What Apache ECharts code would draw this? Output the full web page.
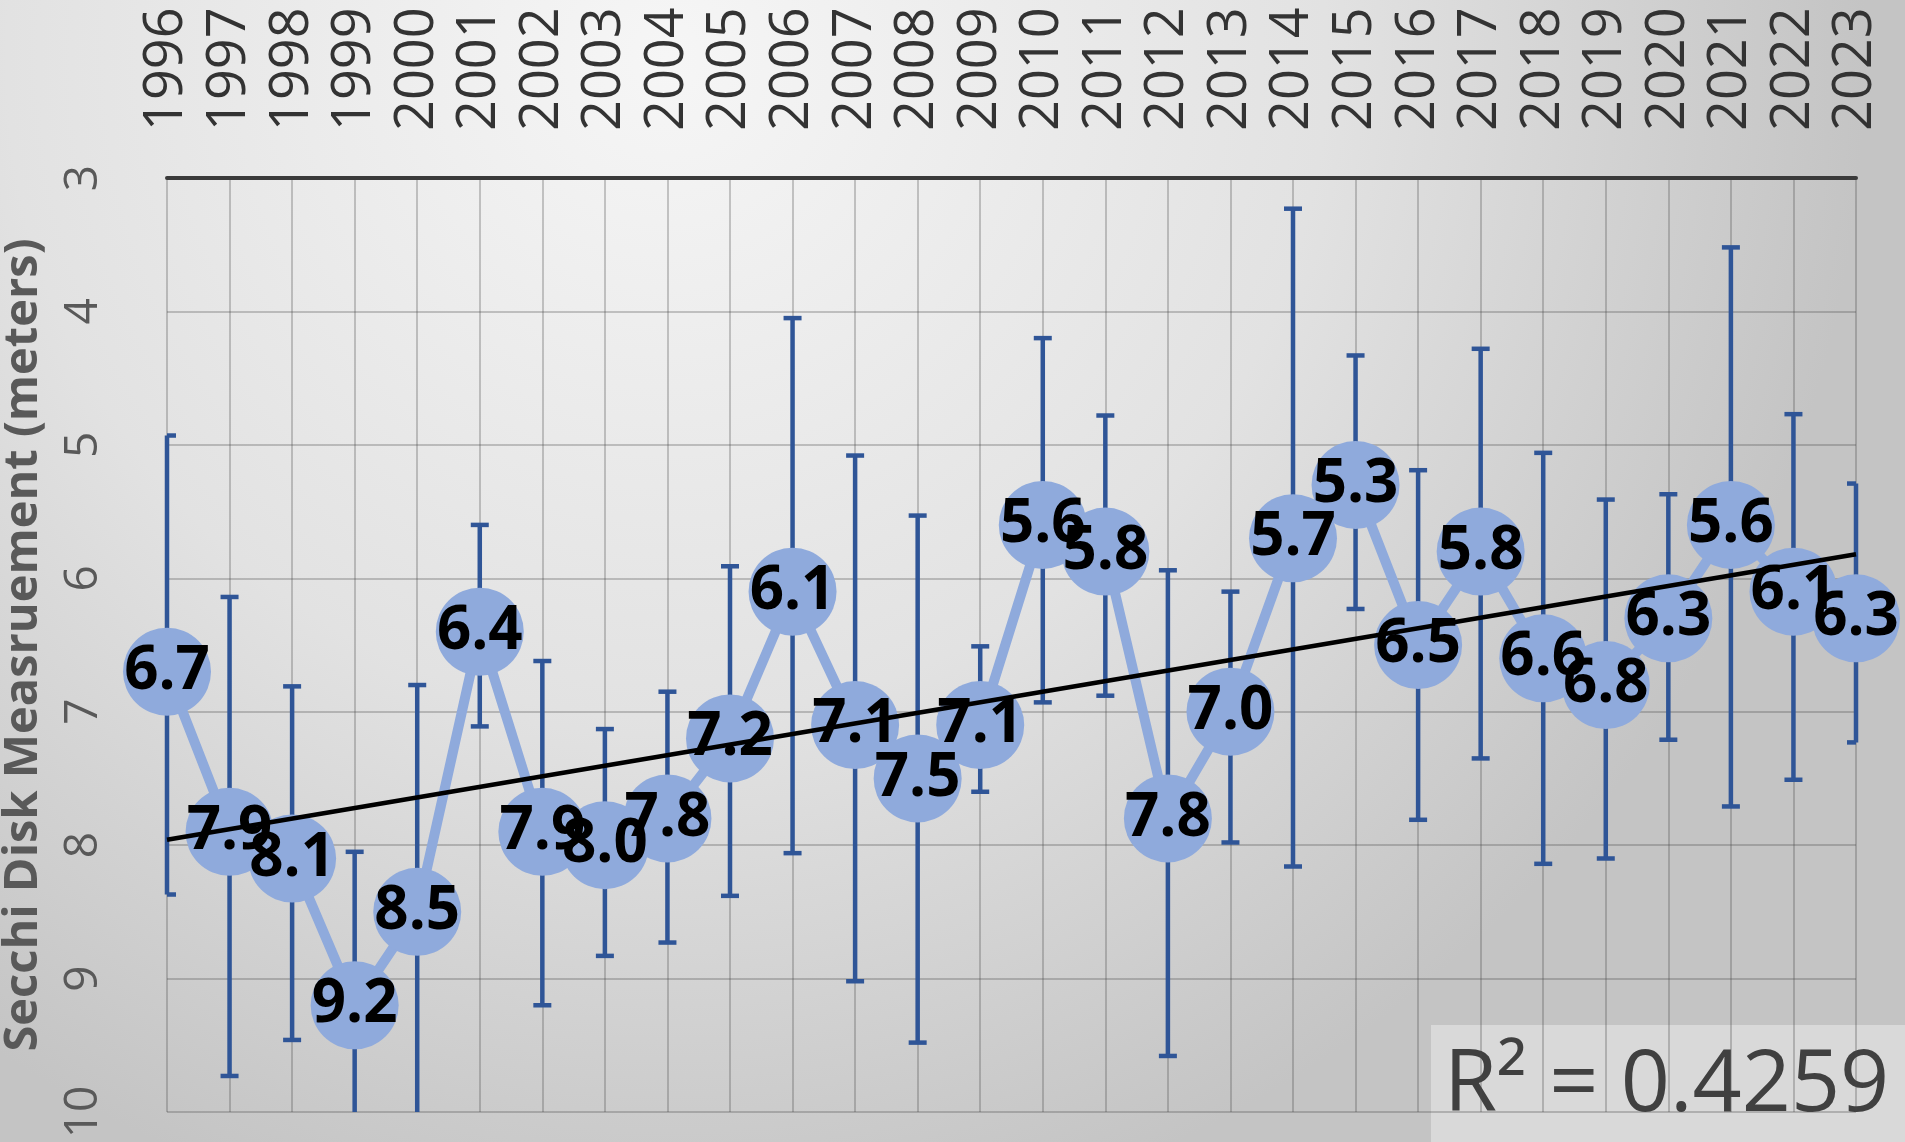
<!DOCTYPE html>
<html>
<head>
<meta charset="utf-8">
<script src="https://cdn.jsdelivr.net/npm/echarts@6/dist/echarts.min.js"></script>
<style>
html,body{margin:0;padding:0;background:#e6e6e6;}
#chart{width:1905px;height:1142px;}
</style>
</head>
<body>
<div id="chart"></div>
<script>
// ---- data ----
const years = ['1996','1997','1998','1999','2000','2001','2002','2003','2004','2005','2006','2007','2008','2009',
               '2010','2011','2012','2013','2014','2015','2016','2017','2018','2019','2020','2021','2022','2023'];
const secchi = [6.7,7.9,8.1,9.2,8.5,6.4,7.9,8.0,7.8,7.2,6.1,7.1,7.5,7.1,5.6,5.8,7.8,7.0,5.7,5.3,6.5,5.8,6.6,6.8,6.3,5.6,6.1,6.3];
// error bar ends (shallow end / deep end), meters
const errShallow = [4.93,6.14,6.81,8.05,6.80,5.60,6.62,7.13,6.85,5.91,4.05,5.08,5.53,6.51,4.20,4.78,5.94,6.10,3.23,4.33,5.19,4.28,5.06,5.41,5.37,3.52,4.77,5.29];
const errDeep    = [8.37,9.73,9.46,10.35,10.20,7.11,9.20,8.83,8.73,8.38,8.06,9.02,9.48,7.60,6.93,6.88,9.58,7.98,8.16,6.23,7.81,7.35,8.14,8.10,7.21,7.71,7.51,7.23];
// linear trend line end points (1996, 2023)
const trendEnds = [7.96, 5.82];
const rSquaredText = 'R² = 0.4259';
const yAxisTitle = 'Secchi Disk Measruement (meters)';

const chart = echarts.init(document.getElementById('chart'), null, {renderer: 'canvas'});

const errData = years.map((y, i) => [i, errShallow[i], errDeep[i]]);

const option = {
  animation: false,
  backgroundColor: new echarts.graphic.RadialGradient(0.35, 0.05, 1.05, [
    {offset: 0, color: '#f6f6f6'},
    {offset: 0.55, color: '#e2e2e2'},
    {offset: 1, color: '#c4c4c4'}
  ]),
  grid: {left: 167, right: 49, top: 178, bottom: 30, containLabel: false, outerBoundsMode: 'none'},
  xAxis: {
    type: 'category',
    data: years,
    position: 'top',
    boundaryGap: false,
    axisLine: {show: true, lineStyle: {color: '#3a3a3a', width: 4}},
    axisTick: {show: false},
    axisLabel: {
      rotate: -90, margin: 47, interval: 0,
      color: '#333333', fontSize: 54, fontFamily: 'Open Sans'
    },
    splitLine: {show: true, lineStyle: {color: 'rgba(70,70,70,0.38)', width: 1.5}}
  },
  yAxis: {
    type: 'value',
    inverse: true,
    min: 3, max: 10, interval: 1,
    axisLine: {show: false},
    axisTick: {show: false},
    axisLabel: {rotate: 90, margin: 60, color: '#595959', fontSize: 46, fontFamily: 'Open Sans'},
    splitLine: {show: true, lineStyle: {color: 'rgba(70,70,70,0.38)', width: 1.5}},
    name: yAxisTitle,
    nameLocation: 'middle',
    nameRotate: 90,
    nameGap: 120,
    nameTextStyle: {color: '#595959', fontSize: 47, fontWeight: 'bold', fontFamily: 'Open Sans'}
  },
  series: [
    {
      type: 'custom',
      z: 1,
      data: errData,
      renderItem: function (params, api) {
        const i = api.value(0);
        const a = api.coord([i, api.value(1)]);
        const b = api.coord([i, api.value(2)]);
        const cs = params.coordSys;
        const top = cs.y, bottom = cs.y + cs.height, left = cs.x, right = cs.x + cs.width;
        const x = a[0];
        const y1 = Math.max(top, Math.min(bottom, a[1]));
        const y2 = Math.max(top, Math.min(bottom, b[1]));
        const half = 9;
        const cl = Math.max(left, x - half), cr = Math.min(right, x + half);
        const style = {stroke: '#2F5597', lineWidth: 4.5, fill: null};
        const children = [
          {type: 'line', shape: {x1: x, y1: y1, x2: x, y2: y2}, style: style}
        ];
        if (a[1] >= top && a[1] <= bottom) children.push({type: 'line', shape: {x1: cl, y1: a[1], x2: cr, y2: a[1]}, style: style});
        if (b[1] >= top && b[1] <= bottom) children.push({type: 'line', shape: {x1: cl, y1: b[1], x2: cr, y2: b[1]}, style: style});
        return {type: 'group', children: children};
      }
    },
    {
      type: 'line',
      z: 2,
      data: secchi,
      symbol: 'circle',
      symbolSize: 88,
      itemStyle: {color: '#8FAADC'},
      lineStyle: {color: '#8FAADC', width: 10},
      label: {
        show: true, position: 'inside',
        color: '#000', fontSize: 60, fontWeight: 'bold', fontFamily: 'Open Sans',
        formatter: p => p.value.toFixed(1)
      }
    },
    {
      type: 'line',
      z: 3,
      data: [[years[0], trendEnds[0]], [years[years.length - 1], trendEnds[1]]],
      symbol: 'none',
      lineStyle: {color: '#000', width: 4.5},
      silent: true
    }
  ],
  graphic: [
    {
      type: 'group', z: 100,
      children: [
        {type: 'rect', left: 1431, top: 1025, shape: {width: 474, height: 117}, style: {fill: '#d9d9d9'}},
        {type: 'text', left: 1444, top: 1043, style: {text: rSquaredText, fill: '#404040', fontSize: 86, fontFamily: 'Open Sans'}}
      ]
    }
  ]
};
chart.setOption(option);
</script>
</body>
</html>
